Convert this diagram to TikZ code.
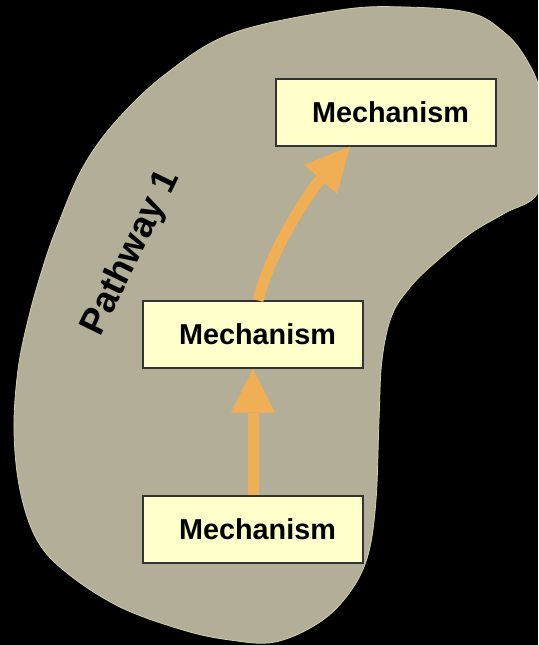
\documentclass[tikz,border=0pt]{standalone}
\usepackage{fontspec}
\setmainfont{Liberation Sans}
\usetikzlibrary{arrows.meta}
\definecolor{blobfill}{HTML}{B3AE98}
\definecolor{blobedge}{HTML}{D2CFA8}
\definecolor{boxfill}{HTML}{FFFFCC}
\definecolor{arrowc}{HTML}{F0AF55}
\tikzset{
  mechbox/.style={draw=black!80, line width=1.2pt, fill=boxfill, minimum width=220pt, minimum height=67pt, inner sep=0pt,
    font=\bfseries\fontsize{28.8}{30}\selectfont},
  flow/.style={draw=arrowc, line width=11pt, -{Triangle[length=44pt,width=44pt,line width=0pt]}},
  blobstyle/.style={fill=blobfill, draw=blobedge, line width=0.8pt},
  pathlabel/.style={font=\bfseries\fontsize{36.5}{40}\selectfont, inner sep=0pt}
}
\begin{document}
\begin{tikzpicture}[x=1pt,y=-1pt]
\fill[black] (0,0) rectangle (538,645);
\useasboundingbox (0,0) rectangle (538,645);
\clip (0,0) rectangle (538,645);
\path[blobstyle] plot[smooth cycle, tension=0.6] coordinates {
 (405,7) (471,13) (505,33) (525,57) (540,90) (548,140) (538,193) (505,213)
 (471,233) (438,260) (412,285) (392,315) (382,360) (379,420) (376,500)
 (368,555) (350,592) (320,622) (275,642) (230,640) (183,630) (120,607)
 (67,573) (37,540) (20,490) (14,430) (18,370) (28,320) (42,270) (57,227)
 (83,167) (117,120) (167,73) (233,33) (340,10)};
\node[mechbox] (top) at (386,112.5) {\hspace*{9pt}Mechanism};
\node[mechbox] (mid) at (253,334.5) {\hspace*{9pt}Mechanism};
\node[mechbox] (bot) at (253,529.5) {\hspace*{9pt}Mechanism};
\draw[flow] (bot.north) -- (mid.south);
\draw[flow] ([xshift=5pt]mid.north) .. controls +(13,-53) and +(-37,41) .. ([xshift=-36pt]top.south);
\node[pathlabel, rotate=64, anchor=base west] (pw) at (100.8,337.5) {Pathway 1};
\end{tikzpicture}
\end{document}
